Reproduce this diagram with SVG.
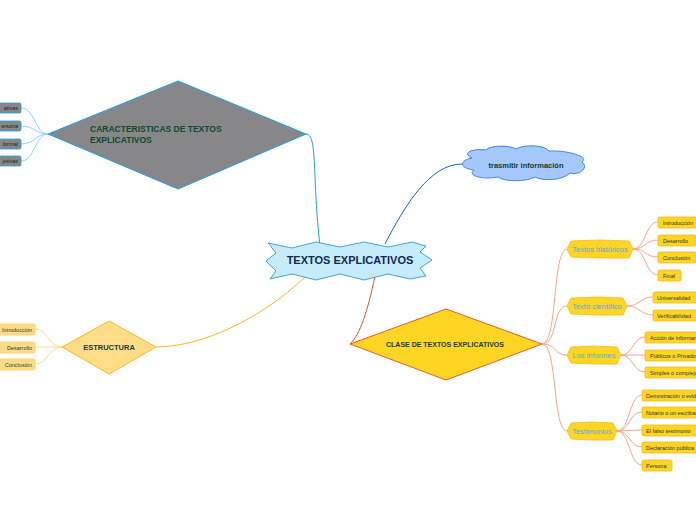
<svg xmlns="http://www.w3.org/2000/svg" width="696" height="520" viewBox="0 0 696 520">
<style>
text{font-family:"Liberation Sans",Arial,sans-serif}
.c{fill:none;stroke-width:1}
.gl{fill:#87878a;stroke:#1ba1e2;stroke-width:0.8}
.gt{font-size:5.5px;fill:#222;text-anchor:end}
.yl{fill:#ffdd88;stroke:#ffcc55;stroke-width:0.8}
.yt{font-size:5.5px;fill:#333;text-anchor:end}
.ol{fill:#fcd623;stroke:#f8b820;stroke-width:0.8}
.ot{font-size:5.5px;fill:#333}
.sub{fill:#fcd623;stroke:#f8b820;stroke-width:0.8}
.st{font-size:7.5px;fill:#4fb3c8;text-anchor:middle}
</style>
<g id="connectors">
<path class="c" stroke="#1ba1e2" stroke-width="1.2" d="M306,134 C318,134 312,180 320,245"/>
<path class="c" stroke="#1565d8" stroke-width="1.4" d="M385,244 C405,205 430,164 462,164"/>
<path class="c" stroke="#e8552a" stroke-width="1.4" d="M375,276 C368,310 360,335 350,344"/>
<path class="c" stroke="#f8b820" stroke-width="1.2" d="M305,277 C260,320 200,347 156,347"/>
<g stroke="#8fd3f5">
<path class="c" d="M48,134 C35,134 35,108 21,108"/>
<path class="c" d="M48,134 C35,134 35,126 21,126"/>
<path class="c" d="M48,134 C35,134 35,144 21,144"/>
<path class="c" d="M48,134 C35,134 35,161 21,161"/>
</g>
<g stroke="#ffdd88">
<path class="c" d="M62,347 C48,347 48,329 35,329"/>
<path class="c" d="M62,347 L35,347"/>
<path class="c" d="M62,347 C48,347 48,364 35,364"/>
</g>
<g stroke="#f8a58a">
<path class="c" d="M542,344 C558,344 552,249 567,249"/>
<path class="c" d="M542,344 C558,344 552,306 567,306"/>
<path class="c" d="M542,344 C558,344 552,355 567,355"/>
<path class="c" d="M542,344 C558,344 552,431 567,431"/>
<path class="c" d="M633,249 C646,249 645,222 658,222"/>
<path class="c" d="M633,249 C646,249 645,240 658,240"/>
<path class="c" d="M633,249 C646,249 645,257 658,257"/>
<path class="c" d="M633,249 C646,249 645,275 658,275"/>
<path class="c" d="M627,306 C640,306 640,297 653,297"/>
<path class="c" d="M627,306 C640,306 640,315 653,315"/>
<path class="c" d="M621,355 C633,355 633,337 645,337"/>
<path class="c" d="M621,355 L645,355"/>
<path class="c" d="M621,355 C633,355 633,372 645,372"/>
<path class="c" d="M617,431 C630,431 629,395 642,395"/>
<path class="c" d="M617,431 C630,431 629,412 642,412"/>
<path class="c" d="M617,431 L642,430"/>
<path class="c" d="M617,431 C630,431 629,447 642,447"/>
<path class="c" d="M617,431 C630,431 629,465 642,465"/>
</g>
</g>
<g id="center">
<polygon points="268,243 292,248 316,242 340,247 364,242 388,247 412,242 426,246 420,252 432,260 420,268 426,276 410,279 388,274 364,280 340,274 316,280 292,274 270,279 276,271 266,261 276,253" fill="#c6ecf9" stroke="#1a8fc8" stroke-width="0.8"/>
<text x="350" y="264" font-size="11" font-weight="bold" fill="#0f2a55" text-anchor="middle">TEXTOS EXPLICATIVOS</text>
</g>
<g id="caracteristicas">
<polygon points="48,134 178,81 306,134 178,189" fill="#87878a" stroke="#1ba1e2" stroke-width="1"/>
<text x="90" y="132" font-size="8.5" font-weight="bold" fill="#0d4a2e">CARACTERISTICAS DE TEXTOS</text>
<text x="90" y="143" font-size="8.5" font-weight="bold" fill="#0d4a2e">EXPLICATIVOS</text>
</g>
<g id="car-leaves">
<rect class="gl" x="-5" y="103" width="26" height="10" rx="1.5"/><text class="gt" x="18" y="110">ativas</text>
<rect class="gl" x="-5" y="121" width="26" height="10" rx="1.5"/><text class="gt" x="18" y="128">ersona</text>
<rect class="gl" x="-5" y="139" width="26" height="10" rx="1.5"/><text class="gt" x="18" y="146">formal</text>
<rect class="gl" x="-5" y="156" width="26" height="10" rx="1.5"/><text class="gt" x="18" y="163">jetivas</text>
</g>
<g id="cloud">
<path d="M472,158 C462,154 470,148 486,150 C490,145 510,145 516,149 C524,144 545,145 549,151 C565,150 590,156 582,162 C590,168 578,176 570,173 C562,181 542,181 535,177 C525,182 505,182 498,177 C484,180 466,176 474,170 C458,168 460,160 472,158 Z" fill="#a5c8ff" stroke="#1e6fd9" stroke-width="0.8"/>
<text x="526" y="168" font-size="7.5" font-weight="bold" fill="#0d3b2e" text-anchor="middle">trasmitir información</text>
</g>
<g id="clase">
<polygon points="350,344 446,309 542,344 446,380" fill="#fcd623" stroke="#f05a28" stroke-width="1"/>
<text x="445" y="347" font-size="7" font-weight="bold" fill="#1a3a2a" text-anchor="middle">CLASE DE TEXTOS EXPLICATIVOS</text>
</g>
<g id="estructura">
<polygon points="62,347 109,321 156,347 109,374" fill="#ffdd88" stroke="#f8b820" stroke-width="1"/>
<text x="109" y="350" font-size="7.5" font-weight="bold" fill="#1a3a2a" text-anchor="middle">ESTRUCTURA</text>
</g>
<g id="est-leaves">
<rect class="yl" x="-2" y="324" width="37" height="11" rx="1.5"/><text class="yt" x="32" y="331.5">Introducción</text>
<rect class="yl" x="-2" y="342" width="37" height="11" rx="1.5"/><text class="yt" x="32" y="349.5">Desarrollo</text>
<rect class="yl" x="-2" y="359" width="37" height="11" rx="1.5"/><text class="yt" x="32" y="366.5">Conclusión</text>
</g>
<g id="historicos">
<polygon class="sub" points="571,241 600,240 629,241 633,249 629,258 600,258 571,257 567,249"/>
<text class="st" x="600" y="252">Textos históricos</text>
<rect class="ol" x="658" y="217" width="44" height="11" rx="1.5"/><text class="ot" x="663" y="224.5">Introducción</text>
<rect class="ol" x="658" y="235" width="38" height="11" rx="1.5"/><text class="ot" x="663" y="242.5">Desarrollo</text>
<rect class="ol" x="658" y="252" width="38" height="11" rx="1.5"/><text class="ot" x="663" y="259.5">Conclusión</text>
<rect class="ol" x="658" y="270" width="23" height="11" rx="1.5"/><text class="ot" x="663" y="277.5">Final</text>
</g>
<g id="cientifico">
<polygon class="sub" points="571,298 597,297 623,298 627,306 623,315 597,315 571,314 567,306"/>
<text class="st" x="597" y="309">Texto científico</text>
<rect class="ol" x="653" y="292" width="50" height="11" rx="1.5"/><text class="ot" x="657" y="299.5">Universalidad</text>
<rect class="ol" x="653" y="310" width="50" height="11" rx="1.5"/><text class="ot" x="657" y="317.5">Verificabilidad</text>
</g>
<g id="informes">
<polygon class="sub" points="571,347 594,346 617,347 621,355 617,364 594,364 571,363 567,355"/>
<text class="st" x="594" y="358">Los informes</text>
<rect class="ol" x="645" y="332" width="58" height="11" rx="1.5"/><text class="ot" x="650" y="339.5">Acción de informar</text>
<rect class="ol" x="645" y="350" width="58" height="11" rx="1.5"/><text class="ot" x="650" y="357.5">Públicos o Privados</text>
<rect class="ol" x="645" y="367" width="58" height="11" rx="1.5"/><text class="ot" x="650" y="374.5">Simples o complejos</text>
</g>
<g id="testimonios">
<polygon class="sub" points="571,423 592,422 613,423 617,431 613,440 592,440 571,439 567,431"/>
<text class="st" x="592" y="434">Testimonios</text>
<rect class="ol" x="642" y="390" width="60" height="11" rx="1.5"/><text class="ot" x="646" y="397.5">Demostración o evidencia</text>
<rect class="ol" x="642" y="407" width="60" height="11" rx="1.5"/><text class="ot" x="646" y="414.5">Notario o un escribano</text>
<rect class="ol" x="642" y="425" width="60" height="11" rx="1.5"/><text class="ot" x="646" y="432.5">El falso testimonio</text>
<rect class="ol" x="642" y="442" width="60" height="11" rx="1.5"/><text class="ot" x="646" y="449.5">Declaración pública</text>
<rect class="ol" x="642" y="460" width="30" height="11" rx="1.5"/><text class="ot" x="646" y="467.5">Persona</text>
</g>
</svg>
